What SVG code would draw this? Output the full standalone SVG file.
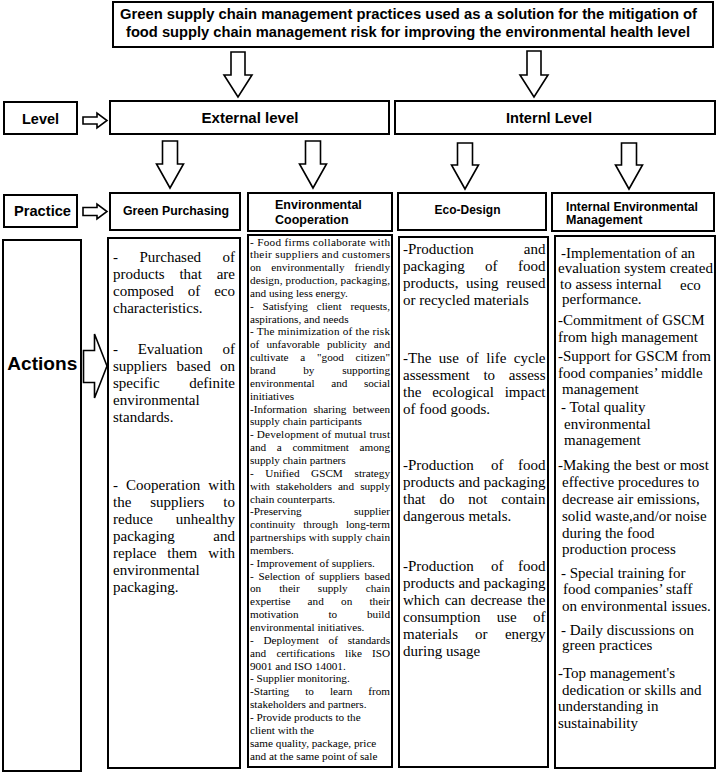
<svg xmlns="http://www.w3.org/2000/svg" width="717" height="772" viewBox="0 0 717 772">
<style>
.box{fill:#fff;stroke:#000;stroke-width:2}
.arr{fill:#fff;stroke:#000;stroke-width:1.6;stroke-linejoin:miter}
.h{font-family:"Liberation Sans",Arial,sans-serif;font-weight:bold;fill:#000}
.s{font-family:"Liberation Serif","Times New Roman",serif;fill:#000}
.c1{font-size:15px}
.c2{font-size:11.2px}
.m{text-anchor:middle}
.e{text-anchor:end}
</style>
<rect width="717" height="772" fill="#fff"/>

<g id="title">
<rect class="box" x="113" y="2" width="600" height="45"/>
<text class="h m" x="408.5" y="18.5" font-size="14.5" textLength="577" lengthAdjust="spacingAndGlyphs">Green supply chain management practices used as a solution for the mitigation of</text>
<text class="h m" x="408" y="37" font-size="14.5" textLength="564" lengthAdjust="spacingAndGlyphs">food supply chain management risk for improving the environmental health level</text>
</g>

<g id="level-label">
<rect class="box" x="4" y="102" width="73" height="32"/>
<text class="h m" x="40.5" y="123.5" font-size="15" textLength="37" lengthAdjust="spacingAndGlyphs">Level</text>
</g>
<g id="external-level">
<rect class="box" x="110" y="101" width="279" height="33"/>
<text class="h m" x="250" y="122.5" font-size="15" textLength="97" lengthAdjust="spacingAndGlyphs">External level</text>
</g>
<g id="internal-level">
<rect class="box" x="395" y="101" width="320" height="33"/>
<text class="h m" x="549" y="123" font-size="15" textLength="86" lengthAdjust="spacingAndGlyphs">Internl Level</text>
</g>

<g id="practice-label">
<rect class="box" x="4" y="195" width="73" height="32"/>
<text class="h m" x="42.5" y="216" font-size="15" textLength="57" lengthAdjust="spacingAndGlyphs">Practice</text>
</g>
<g id="green-purchasing">
<rect class="box" x="110" y="193" width="130" height="37"/>
<text class="h m" x="176" y="214.5" font-size="12.5" textLength="106" lengthAdjust="spacingAndGlyphs">Green Purchasing</text>
</g>
<g id="environmental-cooperation">
<rect class="box" x="248" y="193" width="144" height="38"/>
<text class="h" x="275" y="208.5" font-size="12.5">Environmental</text>
<text class="h" x="275" y="223.5" font-size="12.5">Cooperation</text>
</g>
<g id="eco-design">
<rect class="box" x="398" y="193" width="148" height="37"/>
<text class="h m" x="467.5" y="214" font-size="12.5" textLength="66" lengthAdjust="spacingAndGlyphs">Eco-Design</text>
</g>
<g id="internal-environmental-management">
<rect class="box" x="552" y="193" width="162" height="38"/>
<text class="h" x="566" y="210.5" font-size="12.5" textLength="132" lengthAdjust="spacingAndGlyphs">Internal Environmental</text>
<text class="h" x="566" y="223.5" font-size="12.5">Management</text>
</g>

<g id="actions-label">
<rect class="box" x="3" y="240" width="78" height="531"/>
<text class="h m" x="42.3" y="370" font-size="19" textLength="70" lengthAdjust="spacingAndGlyphs">Actions</text>
</g>

<g id="actions-green-purchasing">
<rect class="box" x="108" y="238" width="132" height="530" stroke-width="2.5"/>
<g class="s c1">
<text y="262"><tspan x="113">-</tspan><tspan x="139.4">Purchased</tspan><tspan x="235" class="e">of</tspan></text>
<text y="279"><tspan x="113">products</tspan><tspan x="179.4">that</tspan><tspan x="235" class="e">are</tspan></text>
<text y="296"><tspan x="113">composed</tspan><tspan x="187.7">of</tspan><tspan x="235" class="e">eco</tspan></text>
<text x="113" y="313">characteristics.</text>
<text y="354"><tspan x="113">-</tspan><tspan x="137.7">Evaluation</tspan><tspan x="235" class="e">of</tspan></text>
<text y="371"><tspan x="113">suppliers</tspan><tspan x="176.5">based</tspan><tspan x="235" class="e">on</tspan></text>
<text y="388"><tspan x="113">specific</tspan><tspan x="235" class="e">definite</tspan></text>
<text x="113" y="405">environmental</text>
<text x="113" y="422">standards.</text>
<text y="490"><tspan x="113">-</tspan><tspan x="126">Cooperation</tspan><tspan x="235" class="e">with</tspan></text>
<text y="507"><tspan x="113">the</tspan><tspan x="150.2">suppliers</tspan><tspan x="235" class="e">to</tspan></text>
<text y="524"><tspan x="113">reduce</tspan><tspan x="235" class="e">unhealthy</tspan></text>
<text y="541"><tspan x="113">packaging</tspan><tspan x="235" class="e">and</tspan></text>
<text y="558"><tspan x="113">replace</tspan><tspan x="167.3">them</tspan><tspan x="235" class="e">with</tspan></text>
<text x="113" y="575">environmental</text>
<text x="113" y="592">packaging.</text>
</g>
</g>

<g id="actions-environmental-cooperation">
<rect class="box" x="248" y="235" width="144" height="532"/>
<g class="s c2">
<text x="250" y="245.5" textLength="140" lengthAdjust="spacing">- Food firms collaborate with</text>
<text x="250" y="258.35" textLength="140" lengthAdjust="spacing">their suppliers and customers</text>
<text y="271.2"><tspan x="250">on</tspan><tspan x="271.2">environmentally</tspan><tspan x="390" class="e">friendly</tspan></text>
<text x="250" y="284.05" textLength="140" lengthAdjust="spacing">design, production, packaging,</text>
<text x="250" y="296.9">and using less energy.</text>
<text y="309.75"><tspan x="250">-</tspan><tspan x="262.5">Satisfying</tspan><tspan x="316.7">client</tspan><tspan x="390" class="e">requests,</tspan></text>
<text x="250" y="322.6">aspirations, and needs</text>
<text x="250" y="335.45" textLength="140" lengthAdjust="spacing">- The minimization of the risk</text>
<text y="348.3"><tspan x="250">of</tspan><tspan x="266.4">unfavorable</tspan><tspan x="327">publicity</tspan><tspan x="390" class="e">and</tspan></text>
<text y="361.15"><tspan x="250">cultivate</tspan><tspan x="300.3">a</tspan><tspan x="317">"good</tspan><tspan x="390" class="e">citizen"</tspan></text>
<text y="374"><tspan x="250">brand</tspan><tspan x="303.2">by</tspan><tspan x="390" class="e">supporting</tspan></text>
<text y="386.85"><tspan x="250">environmental</tspan><tspan x="331.2">and</tspan><tspan x="390" class="e">social</tspan></text>
<text x="250" y="399.7">initiatives</text>
<text y="412.55"><tspan x="250">-Information</tspan><tspan x="313.4">sharing</tspan><tspan x="390" class="e">between</tspan></text>
<text x="250" y="425.4">supply chain participants</text>
<text x="250" y="438.25" textLength="140" lengthAdjust="spacing">- Development of mutual trust</text>
<text y="451.1"><tspan x="250">and</tspan><tspan x="276.8">a</tspan><tspan x="292.4">commitment</tspan><tspan x="390" class="e">among</tspan></text>
<text x="250" y="463.95">supply chain partners</text>
<text y="476.8"><tspan x="250">-</tspan><tspan x="265.3">Unified</tspan><tspan x="311.1">GSCM</tspan><tspan x="390" class="e">strategy</tspan></text>
<text y="489.65"><tspan x="250">with</tspan><tspan x="275.9">stakeholders</tspan><tspan x="337.9">and</tspan><tspan x="390" class="e">supply</tspan></text>
<text x="250" y="502.5">chain counterparts.</text>
<text y="515.35"><tspan x="250">-Preserving</tspan><tspan x="390" class="e">supplier</tspan></text>
<text y="528.2"><tspan x="250">continuity</tspan><tspan x="303.2">through</tspan><tspan x="390" class="e">long-term</tspan></text>
<text x="250" y="541.05" textLength="140" lengthAdjust="spacing">partnerships with supply chain</text>
<text x="250" y="553.9">members.</text>
<text x="250" y="566.75">- Improvement of suppliers.</text>
<text y="579.6"><tspan x="250">-</tspan><tspan x="258.5">Selection</tspan><tspan x="305.1">of</tspan><tspan x="319.2">suppliers</tspan><tspan x="390" class="e">based</tspan></text>
<text y="592.45"><tspan x="250">on</tspan><tspan x="279.2">their</tspan><tspan x="317.8">supply</tspan><tspan x="390" class="e">chain</tspan></text>
<text y="605.3"><tspan x="250">expertise</tspan><tspan x="307.6">and</tspan><tspan x="341.1">on</tspan><tspan x="390" class="e">their</tspan></text>
<text y="618.15"><tspan x="250">motivation</tspan><tspan x="328.4">to</tspan><tspan x="390" class="e">build</tspan></text>
<text x="250" y="631">environmental initiatives.</text>
<text y="643.85"><tspan x="250">-</tspan><tspan x="263.5">Deployment</tspan><tspan x="328.6">of</tspan><tspan x="390" class="e">standards</tspan></text>
<text y="656.7"><tspan x="250">and</tspan><tspan x="276.4">certifications</tspan><tspan x="345.1">like</tspan><tspan x="390" class="e">ISO</tspan></text>
<text x="250" y="669.55">9001 and ISO 14001.</text>
<text x="250" y="682.4">- Supplier monitoring.</text>
<text y="695.25"><tspan x="250">-Starting</tspan><tspan x="305.2">to</tspan><tspan x="329.9">learn</tspan><tspan x="390" class="e">from</tspan></text>
<text x="250" y="708.1">stakeholders and partners.</text>
<text x="250" y="720.95">- Provide products to the</text>
<text x="250" y="733.8">client with the</text>
<text x="250" y="746.65">same quality, package, price</text>
<text x="250" y="759.5">and at the same point of sale</text>
</g>
</g>

<g id="actions-eco-design">
<rect class="box" x="399" y="237" width="149" height="530"/>
<g class="s c1">
<text y="254"><tspan x="403">-Production</tspan><tspan x="545.5" class="e">and</tspan></text>
<text y="271"><tspan x="403">packaging</tspan><tspan x="485">of</tspan><tspan x="545.5" class="e">food</tspan></text>
<text y="288"><tspan x="403">products,</tspan><tspan x="466.1">using</tspan><tspan x="545.5" class="e">reused</tspan></text>
<text x="403" y="305">or recycled materials</text>
<text y="363"><tspan x="403">-The</tspan><tspan x="438.8">use</tspan><tspan x="466.3">of</tspan><tspan x="486.3">life</tspan><tspan x="545.5" class="e">cycle</tspan></text>
<text y="380"><tspan x="403">assessment</tspan><tspan x="483.4">to</tspan><tspan x="545.5" class="e">assess</tspan></text>
<text y="397"><tspan x="403">the</tspan><tspan x="432.2">ecological</tspan><tspan x="545.5" class="e">impact</tspan></text>
<text x="403" y="414">of food goods.</text>
<text y="470"><tspan x="403">-Production</tspan><tspan x="490.9">of</tspan><tspan x="545.5" class="e">food</tspan></text>
<text y="487"><tspan x="403">products</tspan><tspan x="458.4">and</tspan><tspan x="545.5" class="e">packaging</tspan></text>
<text y="504"><tspan x="403">that</tspan><tspan x="439.4">do</tspan><tspan x="468.3">not</tspan><tspan x="545.5" class="e">contain</tspan></text>
<text x="403" y="521">dangerous metals.</text>
<text y="571"><tspan x="403">-Production</tspan><tspan x="490.9">of</tspan><tspan x="545.5" class="e">food</tspan></text>
<text y="588"><tspan x="403">products</tspan><tspan x="458.4">and</tspan><tspan x="545.5" class="e">packaging</tspan></text>
<text y="605"><tspan x="403">which</tspan><tspan x="444.7">can</tspan><tspan x="470.5">decrease</tspan><tspan x="545.5" class="e">the</tspan></text>
<text y="622"><tspan x="403">consumption</tspan><tspan x="496.7">use</tspan><tspan x="545.5" class="e">of</tspan></text>
<text y="639"><tspan x="403">materials</tspan><tspan x="475.1">or</tspan><tspan x="545.5" class="e">energy</tspan></text>
<text x="403" y="656">during usage</text>
</g>
</g>

<g id="actions-internal-environmental-management">
<rect class="box" x="555" y="236" width="160" height="532"/>
<g class="s c1">
<text x="561" y="257.5">-Implementation of an</text>
<text x="558" y="273">evaluation system created</text>
<text x="560" y="288.5">to assess internal</text>
<text x="680" y="289.5">eco</text>
<text x="562" y="303.5">performance.</text>
<text x="558" y="325">-Commitment of GSCM</text>
<text x="558" y="341.5">from high management</text>
<text x="558" y="361">-Support for GSCM from</text>
<text x="558" y="377.5">food companies’ middle</text>
<text x="562" y="393.5">management</text>
<text x="561" y="412">- Total quality</text>
<text x="564" y="428.5">environmental</text>
<text x="564" y="444.5">management</text>
<text x="558" y="469.5">-Making the best or most</text>
<text x="562" y="486.5">effective procedures to</text>
<text x="562" y="503.5">decrease air emissions,</text>
<text x="562" y="520.5">solid waste,and/or noise</text>
<text x="562" y="537.5">during the food</text>
<text x="562" y="553.5">production process</text>
<text x="561" y="577.5">- Special training for</text>
<text x="563" y="593.5">food companies’ staff</text>
<text x="562" y="610.5">on environmental issues.</text>
<text x="561" y="634.5">- Daily discussions on</text>
<text x="562" y="649.5">green practices</text>
<text x="558" y="677.5">-Top management's</text>
<text x="562" y="694.5">dedication or skills and</text>
<text x="558" y="710.5">understanding in</text>
<text x="558" y="727.5">sustainability</text>
</g>
</g>

<g id="connectors">
<path class="arr" d="M231,52 H245 V75 H252 L238,97 L224,75 H231 Z"/>
<path class="arr" d="M527,51 H541 V75 H548 L534,97 L520,75 H527 Z"/>
<path class="arr" d="M162.5,141 H177.5 V164 H183.5 L170,188 L156.5,164 H162.5 Z"/>
<path class="arr" d="M305.5,141 H320.5 V164 H326.5 L313,188 L299.5,164 H305.5 Z"/>
<path class="arr" d="M457.5,143 H472.5 V165 H478.5 L465,189 L451.5,165 H457.5 Z"/>
<path class="arr" d="M621.5,143 H636.5 V165 H642.5 L629,189 L615.5,165 H621.5 Z"/>
<path class="arr" d="M83,117 H97 V113 L107,120.5 L97,128 V124 H83 Z"/>
<path class="arr" d="M83,207.5 H97 V204 L107,211.5 L97,219 V215.5 H83 Z"/>
<path class="arr" d="M83.5,350.5 H94.5 V334 L107,366 L94.5,398 V382.5 H83.5 Z"/>
</g>
</svg>
